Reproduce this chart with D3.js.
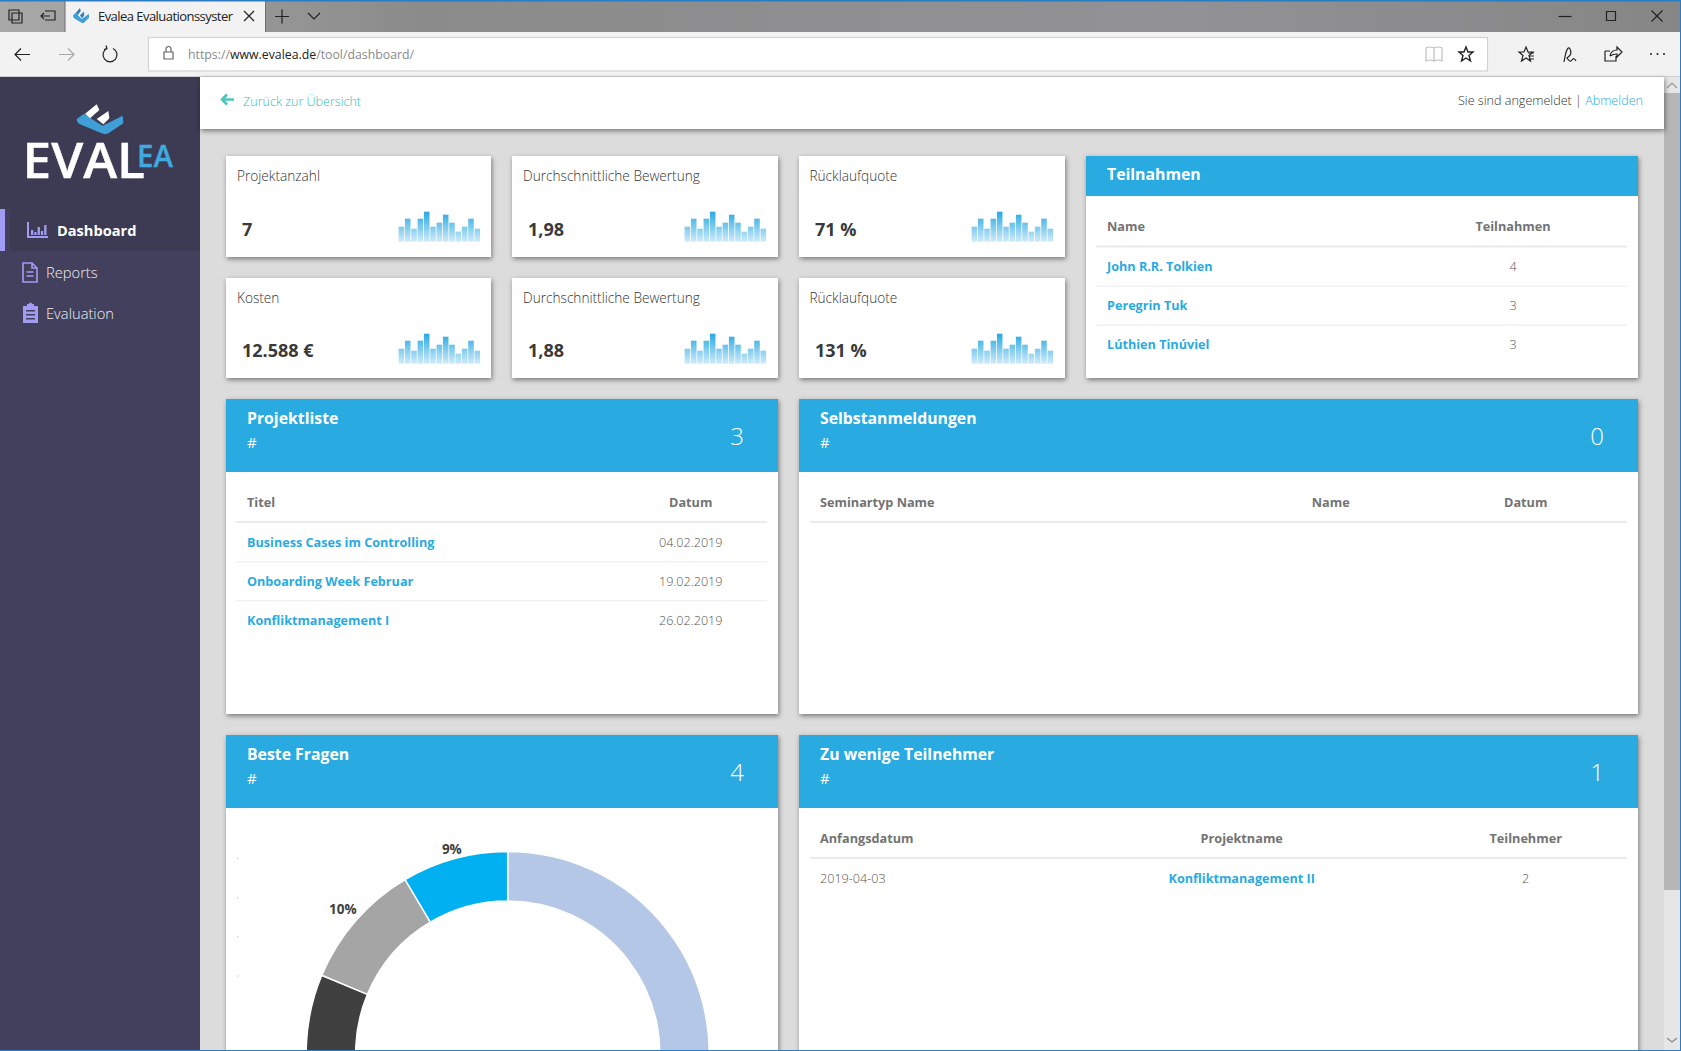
<!DOCTYPE html>
<html>
<head>
<meta charset="utf-8">
<title>Evalea Dashboard</title>
<script src="https://d3js.org/d3.v7.min.js"></script>
<style>
  html, body { margin: 0; padding: 0; background: #dcdcdc; overflow: hidden; }
  svg { display: block; }
  text { font-family: "Open Sans", sans-serif; }
  .shadow { filter: drop-shadow(1px 2px 2.5px rgba(0,0,0,.45)); }
  .icon { fill: none; stroke: #222; stroke-width: 1.2; }
</style>
</head>
<body>
<div id="page"></div>
<script>
// Values
var kpiLabels = ["Projektanzahl", "Durchschnittliche Bewertung", "Rücklaufquote",
                 "Kosten", "Durchschnittliche Bewertung", "Rücklaufquote"];
var kpiValues = ["7", "1,98", "71 %", "12.588 €", "1,88", "131 %"];
var sparkValues = [15, 23, 13, 23, 30, 15, 19, 27, 19, 10, 15, 23, 13];

var menuLabels = ["Dashboard", "Reports", "Evaluation"];

var teilnahmenNames = ["John R.R. Tolkien", "Peregrin Tuk", "Lúthien Tinúviel"];
var teilnahmenCounts = ["4", "3", "3"];

var projektTitel = ["Business Cases im Controlling", "Onboarding Week Februar", "Konfliktmanagement I"];
var projektDatum = ["04.02.2019", "19.02.2019", "26.02.2019"];

var wenigeDatum = ["2019-04-03"];
var wenigeProjekt = ["Konfliktmanagement II"];
var wenigeTeilnehmer = ["2"];

// donut, clockwise from 12 o'clock. the lower part is cut off by the window, first two are estimates
var donutValues = [58.4, 22.9, 10.2, 8.5];
var donutLabels = ["58%", "23%", "10%", "9%"];
var donutColors = ["#b4c7e7", "#404040", "#a5a5a5", "#00b0f0"];
var donutLegendTicks = ["a", "b", "c", "d"];

var blue = "#29abe2";

var svg = d3.select("#page").append("svg")
  .attr("width", 1681)
  .attr("height", 1051);

var defs = svg.append("defs");

// one gradient over the full height of the small chart, so low bars stay pale
var sparkGrad = defs.append("linearGradient")
  .attr("id", "sparkGrad")
  .attr("gradientUnits", "userSpaceOnUse")
  .attr("x1", 0).attr("x2", 0).attr("y1", 0).attr("y2", 30);
sparkGrad.append("stop").attr("offset", "0%").attr("stop-color", "#29a9e3");
sparkGrad.append("stop").attr("offset", "100%").attr("stop-color", "#cfebfa");

var stripGrad = defs.append("linearGradient").attr("id", "stripGrad");
stripGrad.append("stop").attr("offset", "0%").attr("stop-color", "#a8a8a8");
stripGrad.append("stop").attr("offset", "25%").attr("stop-color", "#8b8b8b");
stripGrad.append("stop").attr("offset", "70%").attr("stop-color", "#929296");
stripGrad.append("stop").attr("offset", "100%").attr("stop-color", "#868686");

function addRect(parent, x, y, w, h, fill) {
  return parent.append("rect")
    .attr("x", x).attr("y", y)
    .attr("width", w).attr("height", h)
    .attr("fill", fill);
}

function addText(parent, x, y, str, size, weight, fill, anchor) {
  return parent.append("text")
    .attr("x", x).attr("y", y)
    .attr("dy", "0.35em")
    .attr("font-size", size)
    .attr("font-weight", weight)
    .attr("fill", fill)
    .attr("text-anchor", anchor || "start")
    .text(str);
}

function addIcon(parent, d, tx, ty) {
  return parent.append("path")
    .attr("class", "icon")
    .attr("d", d)
    .attr("transform", `translate(${tx}, ${ty})`);
}

function drawLogoMark(parent, tx, ty, sx, sy, pieceColor) {
  var g = parent.append("g").attr("transform", `translate(${tx}, ${ty}) scale(${sx}, ${sy})`);
  g.append("path")
    .attr("fill", "#3f9fd6")
    .attr("d", "M0 24 L22 8 L60 34 L78 44 L138 14 L140 37 L95 67 Q85 72 75 67 L10 40 Q0 34 0 24Z");
  g.append("path").attr("fill", pieceColor).attr("d", "M25 8 L60 -20 L68 -3 L40 22Z");
  g.append("path").attr("fill", pieceColor).attr("d", "M60 24 L95 0 L98 22 L80 40Z");
}

// ---------- browser chrome ----------
var chrome = svg.append("g");
addRect(chrome, 0, 0, 1681, 34, "url(#stripGrad)");
addRect(chrome, 0, 32, 1681, 45, "#f2f2f2");
addRect(chrome, 0, 76, 1681, 1, "#cfcfcf");
addRect(chrome, 65, 1, 200, 31, "#f2f2f2");
addRect(chrome, 64.5, 1, 1, 31, "#6f6f6f");
addRect(chrome, 265, 1, 1, 31, "#6f6f6f");
addRect(chrome, 0, 0, 1681, 1.5, "#2b7cc3");

// tab strip icons
addIcon(chrome, "M0 0h10v10h-10zM3 3h10v10h-10z", 9, 10);
addIcon(chrome, "M4 0h10v9h-10M0 5h9M3 2l-3 3 3 3", 41, 11);
drawLogoMark(chrome, 73, 11.4, 0.115, 0.17, "#2f7fb8");
addText(chrome, 98, 16.5, "Evalea Evaluationssyster", 13, 400, "#222").attr("textLength", 135);
addIcon(chrome, "M0 0l10 10M10 0l-10 10", 244, 11);
addIcon(chrome, "M7 0v14M0 7h14", 275, 9.5);
addIcon(chrome, "M0 0l6 6 6-6", 308, 13);
addIcon(chrome, "M0 0h13", 1558.5, 16.5);
addIcon(chrome, "M0 0h9v9h-9z", 1606.5, 11.5);
addIcon(chrome, "M0 0l11 11M11 0l-11 11", 1651.5, 10.5);

// toolbar
addIcon(chrome, "M15 0h-15M6 -6l-6 6 6 6", 15, 54.5);
addIcon(chrome, "M0 0h15M9 -6l6 6-6 6", 59, 54.5).style("stroke", "#aaa");
addIcon(chrome, "M-3 -6a7 7 0 1 0 6 0M-4 -9l1 3 -3 1", 110, 54.5);
chrome.append("rect")
  .attr("x", 148.5).attr("y", 37.5)
  .attr("width", 1339).attr("height", 33.5)
  .attr("fill", "#fff").attr("stroke", "#d2d2d2").attr("stroke-width", 1.2);
addIcon(chrome, "M0 5h9v7h-9zM2 5v-3a2.5 2.5 0 0 1 5 0v3", 164, 47).style("stroke", "#666");
var url = chrome.append("text").attr("x", 188).attr("y", 54.6).attr("dy", "0.35em")
  .attr("font-size", 12.3).attr("fill", "#8a8a8a");
url.append("tspan").text("https://");
url.append("tspan").attr("fill", "#222").text("www.evalea.de");
url.append("tspan").text("/tool/dashboard/");
addIcon(chrome, "M0 1q4-2 8 0v13q-4-2-8 0zM8 1q4-2 8 0v13q-4-2-8 0z", 1426, 47).style("stroke", "#c0c0c0");
var starPath = "M7 0l2 5h5l-4 3.5 1.5 5.5-4.5-3-4.5 3 1.500-5.500-4-3.500h5z";
addIcon(chrome, starPath, 1459, 47).style("stroke-width", 1.4);
addIcon(chrome, starPath, 1519, 47);
addIcon(chrome, "M9 6h6M10 9h5M10 12h5", 1519, 47);
addIcon(chrome, "M0 15q3-18 6-13t-3 9q3 5 5 2t4 1", 1564, 47);
addIcon(chrome, "M0 4h5M0 4v10h11v-5M5 9q1-6 7-6v-3l5 5-5 5v-3q-4 0-7 2", 1605, 47);
chrome.selectAll("circle.dot")
  .data([0, 1, 2]).enter().append("circle")
  .attr("cx", d => 1651 + d * 6.5).attr("cy", 54)
  .attr("r", 1).attr("fill", "#222");

// ---------- page background, scrollbar, sidebar, top bar ----------
addRect(svg, 200, 77, 1464, 974, "#dcdcdc");
addRect(svg, 1664, 77, 16, 974, "#e6e6e6");
addRect(svg, 1664, 93, 16, 797, "#b6b6b6");
addIcon(svg, "M0 5l5-5 5 5", 1667, 83).style("stroke", "#999");
addIcon(svg, "M0 0l5 4 5-4", 1667, 1038).style("stroke", "#888");

var side = svg.append("g");
addRect(side, 0, 77, 200, 974, "#42405c");
addRect(side, 0, 77, 200, 132, "#3d3a53");
addRect(side, 10, 209, 190, 42, "#3d3a53");
addRect(side, 0, 209, 5, 42, "#a29bf3");

drawLogoMark(side, 76.7, 111, 1 / 3, 1 / 3, "#fff");
// the EA sits above the foot of the L, as in the original logo
addText(side, 22.5, 161.5, "EVAL", 48, 600, "#fff")
  .attr("textLength", 122.5).attr("lengthAdjust", "spacingAndGlyphs")
  .attr("stroke", "#fff").attr("stroke-width", 0.4);
addText(side, 137, 155.8, "EA", 31, 600, "#3fa9e0")
  .attr("textLength", 36).attr("lengthAdjust", "spacingAndGlyphs")
  .attr("stroke", "#3fa9e0").attr("stroke-width", 0.3);

var menuRows = [231, 272.5, 313.5];
menuLabels.forEach(function(label, i) {
  addText(side, i === 0 ? 57 : 46, menuRows[i], label, i === 0 ? 14.6 : 14.7, i === 0 ? 700 : 300, i === 0 ? "#fff" : "#f0f0f6");
});
side.append("path").attr("fill", "none").attr("stroke", "#a29bf3").attr("stroke-width", 2)
  .attr("d", "M28 222v15h20");
side.selectAll("rect.menubar")
  .data([5, 3, 8, 4, 10]).enter().append("rect")
  .attr("x", (d, i) => 31 + i * 3.3)
  .attr("y", d => 235 - d)
  .attr("width", 2.3)
  .attr("height", d => d)
  .attr("fill", "#a29bf3");
side.append("path").attr("fill", "none").attr("stroke", "#a29bf3").attr("stroke-width", 1.6)
  .attr("d", "M23 263h9l5 5v14h-14zM32 263v5h5M26.5 272h7M26.5 276h7");
side.append("path").attr("fill", "#a29bf3")
  .attr("d", "M23 306h4v-2h2a1.5 1.5 0 0 1 3 0h2v2h4v17h-15z");
side.selectAll("rect.cliprow")
  .data([310, 314, 318]).enter().append("rect")
  .attr("x", 26).attr("y", d => d)
  .attr("width", 9).attr("height", 1.5)
  .attr("fill", "#42405c");

var topbar = svg.append("g");
addRect(topbar, 200, 77, 1464, 52, "#fff").attr("class", "shadow");
addIcon(topbar, "M13 0h-12M6 -5l-5 5 5 5", 221, 99.5).style("stroke", "#4fc4c0").style("stroke-width", 2.6);
addText(topbar, 243, 102, "Zurück zur Übersicht", 12.55, 300, "#35bdb9");
var login = topbar.append("text").attr("x", 1643).attr("y", 100.5).attr("dy", "0.35em")
  .attr("text-anchor", "end").attr("font-size", 12.6).attr("font-weight", 300).attr("fill", "#333");
login.append("tspan").text("Sie sind angemeldet  |  ");
login.append("tspan").attr("fill", blue).text("Abmelden");

// ---------- KPI cards with the small bar charts ----------
var kpiX = [226, 512, 799];
var kpiY = [156, 278];
var kpiH = [101, 100];
var kpiValueY = [73.5, 72.5];
var sparkWidth = 81.5;
var sparkHeight = 30;

var sparkX = d3.scaleBand()
  .domain(d3.range(sparkValues.length))
  .range([0, sparkWidth])
  .paddingInner(0.12);
var sparkY = d3.scaleLinear()
  .domain([0, d3.max(sparkValues)])
  .range([sparkHeight, 0]);

kpiLabels.forEach(function(label, i) {
  var col = i % 3;
  var row = Math.floor(i / 3);
  var card = svg.append("g").attr("transform", `translate(${kpiX[col]}, ${kpiY[row]})`);
  addRect(card, 0, 0, col === 0 ? 265 : 266, kpiH[row], "#fff").attr("class", "shadow");
  addText(card, col === 2 ? 10.4 : 11, 20, label, 13.65, 300, "#333");
  addText(card, 16, kpiValueY[row], kpiValues[i], 18, 700, "#3a3a3a");

  var spark = card.append("g").attr("transform", "translate(172.6, 55.7)");
  spark.selectAll("rect")
    .data(sparkValues)
    .enter()
    .append("rect")
    .attr("x", (d, j) => sparkX(j))
    .attr("y", d => sparkY(d))
    .attr("width", sparkX.bandwidth())
    .attr("height", d => sparkHeight - sparkY(d))
    .attr("fill", "url(#sparkGrad)");
});

// ---------- panels ----------
function drawPanel(x, y, w, h, headH, title, count) {
  var g = svg.append("g").attr("transform", `translate(${x}, ${y})`);
  addRect(g, 0, 0, w, h, "#fff").attr("class", "shadow");
  addRect(g, 0, 0, w, headH, blue);
  if (count !== undefined) {
    addText(g, 21, 19, title, 15.8, 700, "#fff");
    addText(g, 21, 44, "#", 15, 400, "#fff");
    addText(g, w - 41, 37.5, count, 24, 300, "#fff", "middle");
  } else {
    addText(g, 21, 18, title, 15.8, 700, "#fff");
  }
  return g;
}

// rows are drawn from the columns: {x, anchor, head, values, link}
function drawTable(g, left, right, headY, lineY, rowStart, rowStep, columns) {
  addRect(g, left, lineY - 1, right - left, 2, "#e9ecef");
  columns.forEach(function(c) {
    addText(g, c.x, headY, c.head, 12.7, 700, "#737373", c.anchor);
    c.values.forEach(function(v, i) {
      if (c.link) {
        addText(g, c.x, rowStart + i * rowStep, v, 12.65, 700, blue, c.anchor);
      } else {
        addText(g, c.x, rowStart + i * rowStep, v, 12.6, 300, "#555", c.anchor);
      }
    });
  });
  var rows = columns[0].values.length;
  g.selectAll("rect.sep")
    .data(d3.range(rows - 1))
    .enter()
    .append("rect")
    .attr("x", left)
    .attr("y", i => rowStart + rowStep / 2 + i * rowStep - 0.5)
    .attr("width", right - left)
    .attr("height", 1)
    .attr("fill", "#e9ecef");
}

var teil = drawPanel(1086, 156, 552, 222, 40, "Teilnahmen");
drawTable(teil, 10, 541, 70.7, 90.5, 110.7, 39, [
  {x: 21, anchor: "start", head: "Name", values: teilnahmenNames, link: true},
  {x: 427, anchor: "middle", head: "Teilnahmen", values: teilnahmenCounts}
]);

var projekt = drawPanel(226, 399, 552, 315, 73, "Projektliste", "3");
drawTable(projekt, 10, 541, 103.8, 123, 143.3, 39, [
  {x: 21, anchor: "start", head: "Titel", values: projektTitel, link: true},
  {x: 464.7, anchor: "middle", head: "Datum", values: projektDatum}
]);

var selbst = drawPanel(799, 399, 839, 315, 73, "Selbstanmeldungen", "0");
drawTable(selbst, 11, 828, 103.8, 123, 143.3, 39, [
  {x: 21, anchor: "start", head: "Seminartyp Name", values: []},
  {x: 531.7, anchor: "middle", head: "Name", values: []},
  {x: 726.7, anchor: "middle", head: "Datum", values: []}
]);

var beste = drawPanel(226, 735, 552, 400, 73, "Beste Fragen", "4");

var wenige = drawPanel(799, 735, 839, 400, 73, "Zu wenige Teilnehmer", "1");
drawTable(wenige, 11, 828, 103.8, 123, 143.3, 39, [
  {x: 21, anchor: "start", head: "Anfangsdatum", values: wenigeDatum},
  {x: 442.7, anchor: "middle", head: "Projektname", values: wenigeProjekt, link: true},
  {x: 726.7, anchor: "middle", head: "Teilnehmer", values: wenigeTeilnehmer}
]);

// ---------- donut ----------
var donut = beste.append("g").attr("transform", "translate(281.7, 318)");
var pie = d3.pie().sort(null).value(d => d);
var arc = d3.arc().innerRadius(152).outerRadius(201.5);
var midAngle = d => (d.startAngle + d.endAngle) / 2;
// labels sit a bit further out towards the sides, the box of the text is wider than high
var labelRadius = d => 208 + 14 * Math.abs(Math.sin(midAngle(d)));
var labelArc = d3.arc().innerRadius(labelRadius).outerRadius(labelRadius);
var slices = pie(donutValues);

donut.selectAll("path")
  .data(slices)
  .enter()
  .append("path")
  .attr("d", arc)
  .attr("fill", (d, i) => donutColors[i])
  .attr("stroke", "#fff")
  .attr("stroke-width", 1.5);

// the labels of the lower half sit below the window edge
donut.selectAll("text")
  .data(slices.filter(d => Math.cos(midAngle(d)) > 0))
  .enter()
  .append("text")
  .attr("transform", d => `translate(${labelArc.centroid(d)})`)
  .attr("dy", "0.35em")
  .attr("text-anchor", "middle")
  .attr("font-size", 13.5)
  .attr("font-weight", 700)
  .attr("fill", "#404040")
  .text(d => donutLabels[d.index]);

// hidden axis of the chart, only faint dots are left
var legendY = d3.scalePoint().domain(donutLegendTicks).range([122.7, 240.3]);
beste.selectAll("rect.tick")
  .data(donutLegendTicks)
  .enter()
  .append("rect")
  .attr("x", 11)
  .attr("y", d => legendY(d))
  .attr("width", 1.5)
  .attr("height", 1.5)
  .attr("fill", "#d8d8d8");

// window border
addRect(svg, 0, 1050, 1681, 1, "#2b7cc3");
addRect(svg, 1680, 0, 1, 1051, "#2b7cc3");
</script>
</body>
</html>
